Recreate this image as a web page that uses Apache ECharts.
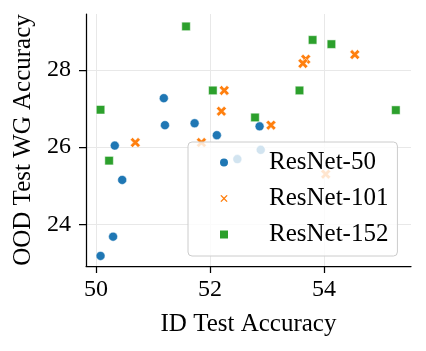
<!DOCTYPE html>
<html>
<head>
<meta charset="utf-8">
<script src="https://cdn.jsdelivr.net/npm/echarts@6/dist/echarts.min.js"></script>
<style>
    html, body { margin: 0; padding: 0; background: #fff; }
    #chart { width: 426px; height: 351px; }
</style>
</head>
<body>
<div id="chart"></div>
<script>
// ID vs OOD worst-group accuracy, per backbone
const seriesNames = ['ResNet-50', 'ResNet-101', 'ResNet-152'];

const r50Id  = [51.19, 51.21, 51.73, 52.12, 52.87, 50.33, 50.46, 50.30, 50.08, 52.24, 52.48, 52.89];
const r50Ood = [27.27, 26.57, 26.62, 26.31, 26.54, 26.04, 25.15, 23.68, 23.18, 25.61, 25.69, 25.93];

const r101Id  = [52.25, 52.20, 50.69, 51.85, 53.68, 53.63, 54.54, 53.07, 54.03];
const r101Ood = [27.47, 26.93, 26.12, 26.12, 28.28, 28.17, 28.40, 26.57, 25.30];

const r152Id  = [51.58, 52.05, 50.08, 52.79, 53.80, 54.13, 53.57, 55.26, 50.23];
const r152Ood = [29.13, 27.47, 26.97, 26.77, 28.78, 28.67, 27.47, 26.96, 25.65];

const xTicks = [50, 52, 54];
const yTicks = [24, 26, 28];

const colors = ['#1f77b4', '#ff7f0e', '#2ca02c'];
const FONT = "'Liberation Serif', 'DejaVu Serif', serif";
const xMarker = 'path://M0,2.3L2.3,0L5,2.7L7.7,0L10,2.3L7.3,5L10,7.7L7.7,10L5,7.3L2.3,10L0,7.7L2.7,5Z';

function pairs(xs, ys) {
    return xs.map((x, i) => [x, ys[i]]);
}

const chart = echarts.init(document.getElementById('chart'));

function axisCommon(ticks) {
    return {
        type: 'value',
        axisLine: { show: true, lineStyle: { color: '#000', width: 1.25 } },
        axisTick: { show: true, length: 7, inside: false, customValues: ticks,
                    lineStyle: { color: '#000', width: 1.25 } },
        axisLabel: { customValues: ticks, color: '#000', fontFamily: FONT, fontSize: 24 },
        splitLine: { show: true, lineStyle: { color: '#e8e8e8', width: 1 } },
        nameLocation: 'middle',
        nameTextStyle: { color: '#000', fontFamily: FONT, fontSize: 25 },
    };
}

const xAxis = axisCommon(xTicks);
xAxis.min = 49.825;
xAxis.max = 55.526;
xAxis.name = 'ID Test Accuracy';
xAxis.nameGap = 46;
xAxis.axisLabel.margin = 12;

const yAxis = axisCommon(yTicks);
yAxis.min = 22.919;
yAxis.max = 29.452;
yAxis.name = 'OOD Test WG Accuracy';
yAxis.nameGap = 50;
yAxis.axisLabel.margin = 15;

chart.setOption({
    animation: false,
    backgroundColor: '#fff',
    grid: { left: 86, right: 15, top: 14, bottom: 85, containLabel: false },
    xAxis: xAxis,
    yAxis: yAxis,
    legend: {
        orient: 'vertical',
        left: 188,
        top: 142,
        padding: [8, 9, 9, 30],
        itemWidth: 10,
        itemHeight: 10,
        itemGap: 11,
        backgroundColor: 'rgba(255,255,255,0.8)',
        borderColor: '#cccccc',
        borderWidth: 1,
        borderRadius: 4,
        textStyle: { color: '#000', fontFamily: FONT, fontSize: 25, lineHeight: 24,
                     padding: [0, 0, 0, 35] },
        data: seriesNames,
    },
    series: [
        {
            name: seriesNames[0], type: 'scatter', symbol: 'circle', symbolSize: 9,
            itemStyle: { color: colors[0], opacity: 1, borderColor: '#fff', borderWidth: 0.5 },
            data: pairs(r50Id, r50Ood),
        },
        {
            name: seriesNames[1], type: 'scatter', symbol: xMarker, symbolSize: 10,
            itemStyle: { color: colors[1], opacity: 1, borderColor: '#fff', borderWidth: 0.5 },
            data: pairs(r101Id, r101Ood),
        },
        {
            name: seriesNames[2], type: 'scatter', symbol: 'rect', symbolSize: 8.5,
            itemStyle: { color: colors[2], opacity: 1, borderColor: '#fff', borderWidth: 0.5 },
            data: pairs(r152Id, r152Ood),
        },
    ],
});
</script>
</body>
</html>
